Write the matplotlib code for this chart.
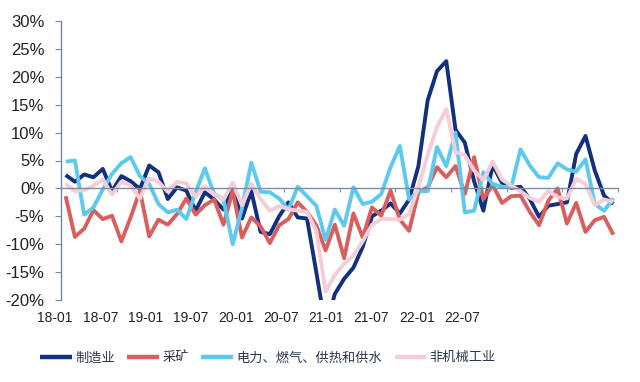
import matplotlib.pyplot as plt
import numpy as np

plt.rcParams['font.family'] = ['Liberation Sans', 'Noto Sans CJK SC', 'DejaVu Sans']

# monthly yoy, 2018-01 .. 2022-12 (%)
manufacturing = [2.4, 1.2, 2.5, 2.0, 3.5, -0.5, 2.2, 1.3, -0.1, 4.1,
                 2.9, -1.9, 0.2, -0.4, -4.0, -0.7, -2.0, -3.8, 0.0, -5.4,
                 -0.5, -7.8, -8.2, -5.0, -2.5, -5.2, -5.4, -15.0, -25.0, -18.9,
                 -16.2, -14.2, -10.5, -5.0, -4.0, -2.7, -4.5, -2.0, 4.0, 15.8,
                 21.0, 22.8, 10.5, 8.2, 1.3, -4.0, 4.2, 1.0, 0.1, 0.3,
                 -1.9, -5.1, -3.1, -2.8, -2.5, 6.2, 9.4, 3.2, -1.3, -2.8]
mining = [-1.4, -8.7, -7.2, -3.9, -5.5, -4.9, -9.5, -5.2, -0.4, -8.6,
          -5.6, -6.5, -4.6, -1.8, -4.7, -3.0, -2.0, -6.5, -0.5, -8.8,
          -5.2, -6.8, -9.8, -6.6, -5.5, -2.5, -4.2, -6.6, -11.1, -6.5,
          -12.5, -4.5, -8.8, -3.4, -4.9, -0.4, -5.6, -7.6, -0.7, 0.2,
          3.8, 2.0, 4.0, -1.0, 5.6, -1.9, 0.6, -2.6, -1.4, -1.3,
          -4.2, -6.6, -2.2, 0.0, -6.3, -2.6, -7.8, -5.7, -5.1, -8.3]
utilities = [4.8, 5.0, -4.7, -3.4, -0.2, 2.6, 4.5, 5.6, 2.2, 0.8,
             -2.8, -4.3, -3.8, -5.5, -0.7, 3.6, -1.0, -2.0, -10.0, -3.5,
             4.6, -0.6, -0.7, -1.8, -3.8, 0.3, -1.4, -3.1, -9.2, -3.8,
             -6.7, 0.2, -2.8, -2.4, -1.0, 3.8, 7.6, -2.0, -0.5, -0.5,
             7.4, 4.0, 10.0, -4.3, -4.0, 2.9, 0.8, 0.3, 0.2, 7.0,
             4.1, 2.0, 1.9, 4.5, 3.4, 3.0, 5.2, -2.8, -4.0, -1.8]
non_machinery = [0.8, -0.5, -0.3, 0.5, 1.6, -1.1, 1.2, 0.5, -1.8, 1.8,
                 1.2, -0.6, 1.2, 0.9, -1.5, 0.4, -1.1, -2.0, 1.0, -3.0,
                 0.8, -1.9, -4.0, -3.2, -3.7, -4.0, -4.2, -7.6, -18.5, -15.5,
                 -13.5, -12.0, -9.5, -6.5, -5.5, -5.5, -5.6, -4.6, 0.3, 6.0,
                 11.0, 14.2, 6.5, 6.0, 3.2, 1.5, 4.8, 1.6, 0.5, -0.5,
                 -1.7, -2.4, -0.5, -1.6, -1.8, 1.7, 0.8, -3.0, -2.0, -2.4]

names = ['制造业', '采矿', '电力、燃气、供热和供水', '非机械工业']
colors = ['#12307f', '#d95f5f', '#5ec9ee', '#f4cdd6']
x_labels = ['18-01', '18-07', '19-01', '19-07', '20-01',
            '20-07', '21-01', '21-07', '22-01', '22-07']
y_ticks = list(range(-20, 31, 5))

fig = plt.figure(figsize=(6.4, 3.82), dpi=100)
ax = fig.add_axes([61 / 640, 1 - 300 / 382, 557 / 640, 279 / 382])

x = np.arange(len(manufacturing))
series = [manufacturing, mining, utilities, non_machinery]
for vals, c, name in zip(series, colors, names):
    ax.plot(x, vals, color=c, lw=2.8, label=name, solid_capstyle='butt')

ax.set_xlim(-0.5, len(x) - 0.5)
ax.set_ylim(-20, 30)

for s in ['top', 'right']:
    ax.spines[s].set_visible(False)
ax.spines['left'].set_color('#6d86b3')
ax.spines['left'].set_linewidth(1.0)
ax.spines['bottom'].set_position(('data', 0))
ax.spines['bottom'].set_color('#7d8ba5')
ax.spines['bottom'].set_linewidth(1.0)

ax.set_yticks(y_ticks)
ax.set_yticklabels([f'{v}%' for v in y_ticks])
ax.tick_params(axis='y', direction='out', length=4, color='#6d86b3',
               labelsize=12, labelcolor='#222222', pad=8)

ax.set_xticks(np.arange(-0.5, len(x), 6))
ax.tick_params(axis='x', direction='out', length=3, color='#7d8ba5',
               labelbottom=False)

# category labels sit under the plot, not on the zero line
lab_pos = -1.14 + 4.87 * np.arange(len(x_labels))
for p, t in zip(lab_pos, x_labels):
    ax.text(p, -0.066, t, transform=ax.get_xaxis_transform(),
            ha='center', va='center', fontsize=10, color='#222222')

fig.legend(loc='center left', bbox_to_anchor=(40 / 640, 1 - 358 / 382),
           ncol=4, frameon=False, fontsize=9.5, handlelength=2.4,
           handletextpad=0.25, columnspacing=0.95, borderpad=0,
           borderaxespad=0, labelcolor='#2c3650')
for h in fig.legends[0].get_lines():
    h.set_linewidth(3.2)

fig.savefig('out.png', dpi=100)
